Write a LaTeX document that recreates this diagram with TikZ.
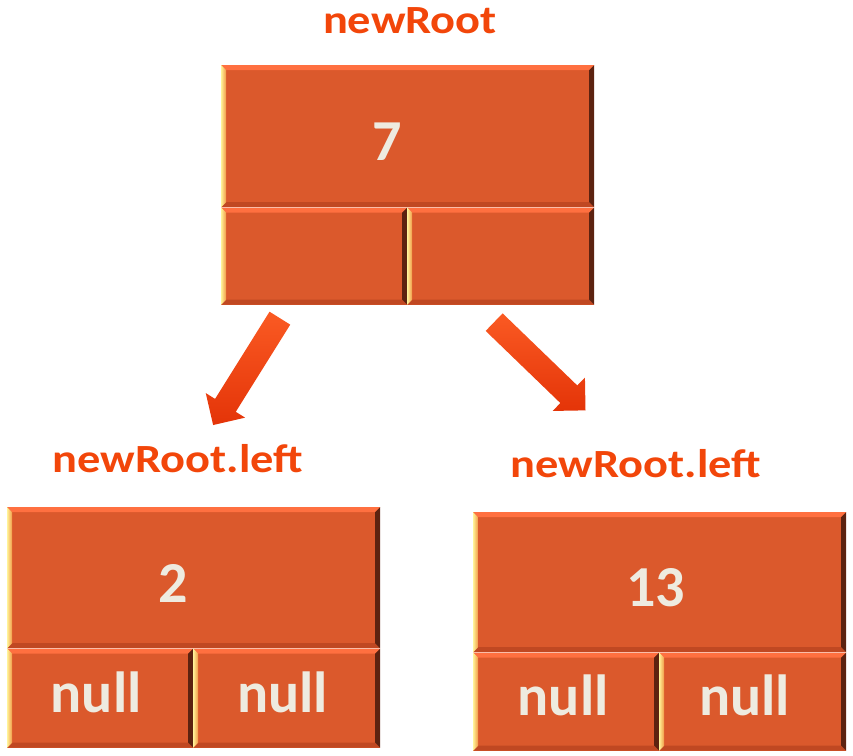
\documentclass[tikz,border=0pt]{standalone}
\usepackage{fontspec}
\setmainfont{Carlito}
\usepackage{graphicx}
\usepackage{tikz}
\usetikzlibrary{shapes.arrows, positioning, calc}

\definecolor{brickfill}{RGB}{219,89,44}
\definecolor{brickhi}{RGB}{255,112,64}
\definecolor{brickdark}{RGB}{92,34,16}
\definecolor{brickbot}{RGB}{192,72,34}
\definecolor{brickyel}{RGB}{255,240,150}
\definecolor{brickyel2}{RGB}{240,150,70}
\definecolor{labelred}{RGB}{242,70,10}
\definecolor{numtext}{RGB}{238,235,224}
\definecolor{arrowlit}{RGB}{250,90,35}
\definecolor{arrowdk}{RGB}{228,52,8}

\newcommand{\bw}{5pt}
\newcommand{\widetxt}[1]{\scalebox{1.16}[1]{#1}}

\begin{document}
\begin{tikzpicture}[x=1pt, y=-1pt,
  brick/.style={rectangle, inner sep=0pt, fill=brickfill, text=numtext,
    font=\fontsize{58}{58}\selectfont\bfseries,
    path picture={
      \coordinate (bnw) at (path picture bounding box.north west);
      \coordinate (bne) at (path picture bounding box.north east);
      \coordinate (bsw) at (path picture bounding box.south west);
      \coordinate (bse) at (path picture bounding box.south east);
      % bevel: top, bottom, left, right
      \fill[brickhi] (bnw) -- (bne) -- ([xshift=-\bw,yshift=-\bw]bne) -- ([xshift=\bw,yshift=-\bw]bnw) -- cycle;
      \fill[brickbot] (bsw) -- (bse) -- ([xshift=-\bw,yshift=\bw]bse) -- ([xshift=\bw,yshift=\bw]bsw) -- cycle;
      \shade[left color=brickyel, right color=brickyel2] (bnw) -- ([xshift=\bw,yshift=-\bw]bnw) -- ([xshift=\bw,yshift=\bw]bsw) -- (bsw) -- cycle;
      \fill[brickdark] (bne) -- (bse) -- ([xshift=-\bw,yshift=\bw]bse) -- ([xshift=-\bw,yshift=-\bw]bne) -- cycle;
    }},
  valbrick/.style={brick, text height=49pt, text depth=0pt},
  nullbrick/.style={brick, text height=40pt, text depth=12pt},
  lbl/.style={text=labelred, font=\fontsize{40}{40}\selectfont\bfseries, inner sep=0pt},
  blockarrow/.style={single arrow, inner sep=0pt, inner ysep=12pt, minimum width=0pt,
    single arrow head extend=11pt, top color=arrowlit, bottom color=arrowdk, draw=none}
]
  \useasboundingbox (0,0) rectangle (853,755);

  % newRoot
  \node[lbl] (rootlbl) at (410,21) {\widetxt{newRoot}};
  \node[valbrick, minimum width=373pt, minimum height=142pt, anchor=north west] (root) at (221,65) {7\kern42pt};
  \node[brick, minimum width=186pt, minimum height=97pt, anchor=north west] (rootL) at (root.south west) {};
  \node[brick, minimum width=187pt, minimum height=97pt, anchor=north east] (rootR) at (root.south east) {};

  % arrows to the children
  \node[blockarrow, rotate=238, minimum height=126pt, anchor=tail] (arrL) at (280,318) {};
  \node[blockarrow, rotate=-44, minimum height=127pt, anchor=tail] (arrR) at (494,322) {};

  % left child
  \node[lbl] (leftlbl) at (178,459) {\widetxt{newRoot.left}};
  \node[valbrick, minimum width=373pt, minimum height=141pt, anchor=north west] (left) at (7,507) {2\kern42pt};
  \node[nullbrick, minimum width=186pt, minimum height=99pt, anchor=north west] (leftL) at (left.south west) {null\kern8pt};
  \node[nullbrick, minimum width=187pt, minimum height=99pt, anchor=north east] (leftR) at (left.south east) {null\kern8pt};

  % right child
  \node[lbl] (rightlbl) at (636,464) {\widetxt{newRoot.left}};
  \node[valbrick, minimum width=373pt, minimum height=140pt, anchor=north west] (right) at (473,512) {13\kern8pt};
  \node[nullbrick, minimum width=186pt, minimum height=98pt, anchor=north west] (rightL) at (right.south west) {null\kern6pt};
  \node[nullbrick, minimum width=187pt, minimum height=98pt, anchor=north east] (rightR) at (right.south east) {null\kern16pt};

\end{tikzpicture}
\end{document}
